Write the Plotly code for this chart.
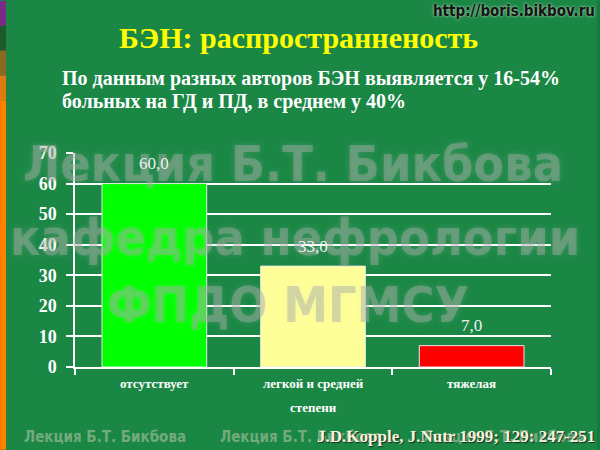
import plotly.graph_objects as go

# ---- data ----
categories = ["отсутствует", "легкой и средней степени", "тяжелая"]
category_lines = [["отсутствует"], ["легкой и средней", "степени"], ["тяжелая"]]
values = [60.0, 33.0, 7.0]
bar_colors = ["#00ff00", "#ffff99", "#ff0000"]
y_ticks = [0, 10, 20, 30, 40, 50, 60, 70]

title_text = "БЭН: распространненость"
subtitle_lines = ["По данным разных авторов БЭН выявляется у 16-54%",
                  "больных на ГД и ПД, в среднем у 40%"]
watermark_lines = ["Лекция Б.Т. Бикбова", "кафедра нефрологии", "ФПДО МГМСУ"]
footer_mark = "Лекция Б.Т. Бикбова"
citation = "J.D.Kopple, J.Nutr 1999; 129: 247-251"
url_text = "http://boris.bikbov.ru"

# ---- layout geometry (pixels) ----
W, H = 600, 450
PL, PR, PT, PB = 75, 551, 152.5, 367


def px(x):
    return (x - PL) / (PR - PL)


def py(y):
    return (PB - y) / (PB - PT)


BG = "#1b8745"
SERIF = "Liberation Serif, Times New Roman, serif"
NARROW = "DejaVu Sans Condensed, Liberation Sans Narrow, sans-serif"

fig = go.Figure()
fig.add_trace(go.Bar(
    x=categories, y=values,
    marker=dict(color=bar_colors, line=dict(color="#e6e6e6", width=1)),
    width=0.66, hoverinfo="skip",
))

annotations = []
# big watermark (drawn first, under other texts)
for txt, (cx, cy) in zip(watermark_lines, [(293, 164), (295, 238), (288, 305)]):
    annotations.append(dict(
        x=px(cx), y=py(cy), xref="paper", yref="paper", text=txt,
        showarrow=False, xanchor="center", yanchor="middle",
        font=dict(family=NARROW, size=50, color="rgba(165,170,165,0.45)", weight="bold",
                  shadow="0px 0px 6px rgba(200,210,200,0.45)"),
    ))
# footer watermark
for lx in [22, 218, 420]:
    annotations.append(dict(
        x=px(lx), y=py(437), xref="paper", yref="paper", text=footer_mark,
        showarrow=False, xanchor="left", yanchor="middle",
        font=dict(family=NARROW, size=15, color="rgba(140,180,140,0.8)", weight="bold"),
    ))
# value labels
for c, v in zip(categories, values):
    annotations.append(dict(
        x=c, y=v, xref="x", yref="y", text=f"{v:.1f}".replace(".", ","),
        showarrow=False, yanchor="middle", yshift=20,
        font=dict(family=SERIF, size=17, color="#f0f0f0"),
    ))
# category labels
for c, lines in zip(categories, category_lines):
    for i, ln in enumerate(lines):
        annotations.append(dict(
            x=c, xref="x", y=py(384 + 24 * i), yref="paper", text=ln,
            showarrow=False, yanchor="middle",
            font=dict(family=SERIF, size=13, color="white", weight="bold"),
        ))
# title & subtitle
annotations.append(dict(
    x=px(298), y=py(37), xref="paper", yref="paper", text=title_text,
    showarrow=False, xanchor="center", yanchor="middle",
    font=dict(family=SERIF, size=30, color="#ffff00", weight="bold"),
))
for i, ln in enumerate(subtitle_lines):
    annotations.append(dict(
        x=px(60), y=py(78 + 23 * i), xref="paper", yref="paper", text=ln,
        showarrow=False, xanchor="left", yanchor="middle",
        font=dict(family=SERIF, size=20, color="white", weight="bold"),
    ))
# url
annotations.append(dict(
    x=px(597), y=py(10), xref="paper", yref="paper", text=url_text,
    showarrow=False, xanchor="right", yanchor="middle",
    font=dict(family=NARROW, size=15, color="#141414", weight="bold",
              shadow="0px 0px 3px rgba(220,240,220,0.9)"),
))
# citation
annotations.append(dict(
    x=px(597), y=py(437), xref="paper", yref="paper", text=citation,
    showarrow=False, xanchor="right", yanchor="middle",
    font=dict(family=SERIF, size=17, color="#f4f4dc", weight="bold",
              shadow="1px 1px 1px rgba(30,30,30,0.9)"),
))

shapes = [
    dict(type="rect", xref="paper", yref="paper", x0=px(0), x1=px(6), y0=py(0), y1=py(25),
         fillcolor="#7b2a88", line_width=0, layer="above"),
    dict(type="rect", xref="paper", yref="paper", x0=px(0), x1=px(6), y0=py(25), y1=py(50),
         fillcolor="#1d5a2c", line_width=0, layer="above"),
    dict(type="rect", xref="paper", yref="paper", x0=px(0), x1=px(6), y0=py(50), y1=py(75),
         fillcolor="#8a6a20", line_width=0, layer="above"),
    dict(type="rect", xref="paper", yref="paper", x0=px(0), x1=px(6), y0=py(75), y1=py(100),
         fillcolor="#e07a10", line_width=0, layer="above"),
    dict(type="rect", xref="paper", yref="paper", x0=px(0), x1=px(6), y0=py(100), y1=py(450),
         fillcolor="#ff8000", line_width=0, layer="above"),
    dict(type="rect", xref="paper", yref="paper", x0=px(597), x1=px(600), y0=py(0), y1=py(450),
         fillcolor="#157a3c", line_width=0, layer="below"),
]

fig.update_layout(
    width=W, height=H,
    margin=dict(l=PL, r=W - PR, t=PT, b=H - PB, pad=0),
    paper_bgcolor=BG, plot_bgcolor=BG,
    showlegend=False,
    annotations=annotations,
    shapes=shapes,
    xaxis=dict(
        showgrid=False, showline=True, linecolor="white", linewidth=1.5,
        ticks="outside", tickson="boundaries", ticklen=6, tickcolor="white", tickwidth=1.5,
        showticklabels=False, fixedrange=True,
    ),
    yaxis=dict(
        range=[0, 70], tickvals=y_ticks, showgrid=True, gridcolor="white", gridwidth=1.5,
        zeroline=False, showline=True, linecolor="white", linewidth=1.5,
        ticks="outside", ticklen=7, tickcolor="white", tickwidth=1.5,
        ticklabelstandoff=6,
        tickfont=dict(family=SERIF, size=18, color="white", weight="bold"),
        fixedrange=True,
    ),
)

fig.write_html(
    "out.html",
    config={"displayModeBar": False},
    post_script="document.body.style.margin='0';document.body.style.overflow='hidden';"
                "document.body.style.background='" + BG + "';",
)
